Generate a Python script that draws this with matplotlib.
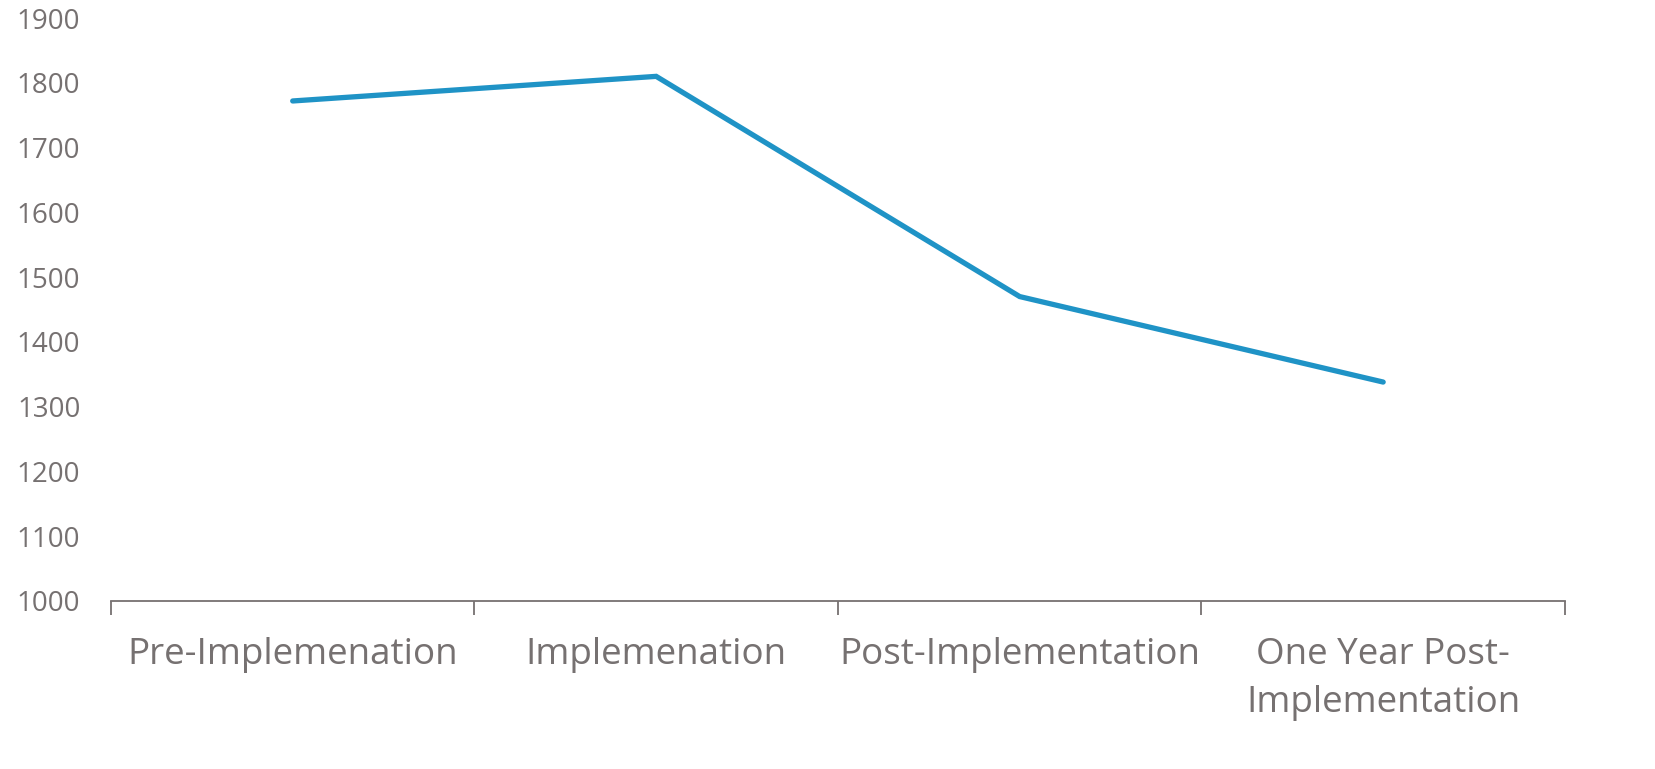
import numpy as np
import matplotlib.pyplot as plt
from matplotlib.ticker import FixedLocator

# chart data
phases = ["Pre-Implemenation", "Implemenation", "Post-Implementation", "One Year Post-\nImplementation"]
values = [1772, 1810, 1470, 1338]
y_ticks = list(range(1000, 2000, 100))

grey = "#767171"
blue = "#1F93C6"

plt.rcParams['font.family'] = ['Open Sans', 'DejaVu Sans']

fig = plt.figure(figsize=(16.56, 7.69), dpi=100)
ax = fig.add_axes([0.067, 0.2185, 0.878, 0.758])

x = np.arange(len(phases))
ax.plot(x, values, color=blue, linewidth=3.8, solid_capstyle='round', solid_joinstyle='miter')

ax.set_xlim(-0.5, len(phases) - 0.5)
ax.set_ylim(1000, 1900)
ax.set_yticks(y_ticks)
ax.set_yticklabels([str(v) for v in y_ticks])

ax.set_xticks(x)
ax.set_xticklabels(phases, linespacing=1.45)
ax.xaxis.set_minor_locator(FixedLocator(np.arange(len(phases) + 1) - 0.5))

for side in ['top', 'right', 'left']:
    ax.spines[side].set_visible(False)
ax.spines['bottom'].set_color(grey)
ax.spines['bottom'].set_linewidth(1.3)

ax.tick_params(axis='x', which='major', length=0, pad=26, labelsize=26.5, labelcolor=grey)
ax.tick_params(axis='x', which='minor', length=10, width=1.3, color=grey, direction='out')
ax.tick_params(axis='y', length=0, pad=22, labelsize=20, labelcolor=grey)

fig.savefig("out.png", dpi=100)
